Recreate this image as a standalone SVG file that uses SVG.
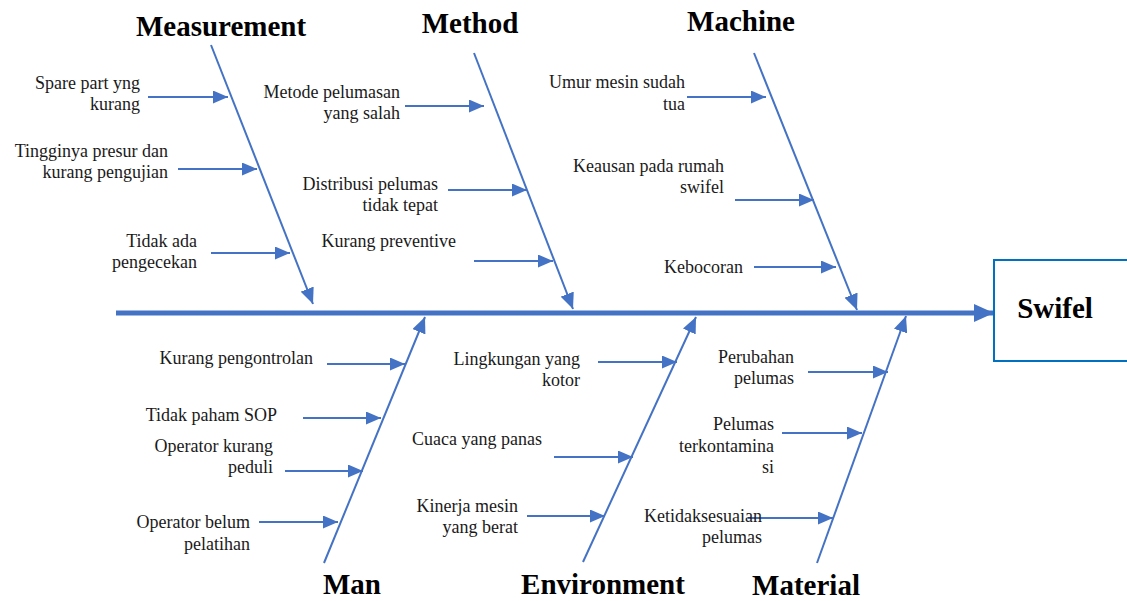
<svg xmlns="http://www.w3.org/2000/svg" width="1127" height="601" viewBox="0 0 1127 601">
<style>
.t{font-family:"Liberation Serif","Times New Roman",serif;font-size:18px;fill:#1a1a1a;text-anchor:end}
.h{font-family:"Liberation Serif","Times New Roman",serif;font-size:29px;font-weight:bold;fill:#000;text-anchor:middle}
.sub{stroke:#4472C4;stroke-width:1.8;fill:none;marker-end:url(#a)}
.bone{stroke:#4472C4;stroke-width:2;fill:none;marker-end:url(#b)}
</style>
<defs>
<marker id="a" markerUnits="userSpaceOnUse" markerWidth="15" markerHeight="13" refX="15" refY="6.5" orient="auto"><path d="M0,0 L15,6.5 L0,13 z" fill="#4472C4"/></marker>
<marker id="b" markerUnits="userSpaceOnUse" markerWidth="16" markerHeight="14" refX="16" refY="7" orient="auto"><path d="M0,0 L16,7 L0,14 z" fill="#4472C4"/></marker>
<marker id="c" markerUnits="userSpaceOnUse" markerWidth="20" markerHeight="18" refX="20" refY="9" orient="auto"><path d="M0,0 L20,9 L0,18 z" fill="#4472C4"/></marker>
</defs>
<rect width="1127" height="601" fill="#fff"/>
<g id="connectors">
<line x1="116" y1="313" x2="994" y2="313" stroke="#4472C4" stroke-width="5" marker-end="url(#c)"/>
<line class="bone" x1="211" y1="45" x2="313" y2="304"/>
<line class="bone" x1="474" y1="53" x2="573" y2="309"/>
<line class="bone" x1="754" y1="53" x2="857" y2="310"/>
<line class="bone" x1="324" y1="563" x2="425" y2="317"/>
<line class="bone" x1="583" y1="562" x2="696" y2="317"/>
<line class="bone" x1="817" y1="563" x2="906" y2="316"/>
<line class="sub" x1="148" y1="97" x2="228" y2="97"/>
<line class="sub" x1="178" y1="169" x2="257" y2="169"/>
<line class="sub" x1="211" y1="253" x2="290" y2="253"/>
<line class="sub" x1="405" y1="106" x2="484" y2="106"/>
<line class="sub" x1="448" y1="190" x2="527" y2="190"/>
<line class="sub" x1="474" y1="261" x2="553" y2="261"/>
<line class="sub" x1="687" y1="97" x2="766" y2="97"/>
<line class="sub" x1="735" y1="200" x2="814" y2="200"/>
<line class="sub" x1="754" y1="267" x2="836" y2="267"/>
<line class="sub" x1="327" y1="364" x2="405" y2="364"/>
<line class="sub" x1="303" y1="418" x2="381" y2="418"/>
<line class="sub" x1="285" y1="471" x2="363" y2="471"/>
<line class="sub" x1="259" y1="522" x2="338" y2="522"/>
<line class="sub" x1="598" y1="362" x2="677" y2="362"/>
<line class="sub" x1="554" y1="457" x2="633" y2="457"/>
<line class="sub" x1="527" y1="516" x2="605" y2="516"/>
<line class="sub" x1="808" y1="372" x2="888" y2="372"/>
<line class="sub" x1="782" y1="433" x2="862" y2="433"/>
<line class="sub" x1="748" y1="518" x2="833" y2="518"/>
</g>
<g id="swifel">
<rect x="994" y="260" width="150" height="101" fill="#fff" stroke="#0070C0" stroke-width="2"/>
<text class="h" x="1055" y="318">Swifel</text>
</g>
<g id="measurement">
<text class="h" x="221" y="36">Measurement</text>
<text class="t" x="140" y="89">Spare part yng</text>
<text class="t" x="140" y="110">kurang</text>
<text class="t" x="168" y="157">Tingginya presur dan</text>
<text class="t" x="168" y="178">kurang pengujian</text>
<text class="t" x="197" y="247">Tidak ada</text>
<text class="t" x="197" y="268">pengecekan</text>
</g>
<g id="method">
<text class="h" x="470" y="33">Method</text>
<text class="t" x="400" y="98">Metode pelumasan</text>
<text class="t" x="400" y="119">yang salah</text>
<text class="t" x="438" y="190">Distribusi pelumas</text>
<text class="t" x="438" y="211">tidak tepat</text>
<text class="t" x="456" y="247">Kurang preventive</text>
</g>
<g id="machine">
<text class="h" x="741" y="31">Machine</text>
<text class="t" x="685" y="88">Umur mesin sudah</text>
<text class="t" x="685" y="110">tua</text>
<text class="t" x="724" y="172">Keausan pada rumah</text>
<text class="t" x="724" y="193">swifel</text>
<text class="t" x="743" y="273">Kebocoran</text>
</g>
<g id="man">
<text class="h" x="352" y="594">Man</text>
<text class="t" x="313" y="364">Kurang pengontrolan</text>
<text class="t" x="277" y="421">Tidak paham SOP</text>
<text class="t" x="273" y="452">Operator kurang</text>
<text class="t" x="273" y="473">peduli</text>
<text class="t" x="250" y="528">Operator belum</text>
<text class="t" x="250" y="550">pelatihan</text>
</g>
<g id="environment">
<text class="h" x="603" y="594">Environment</text>
<text class="t" x="580" y="365">Lingkungan yang</text>
<text class="t" x="580" y="386">kotor</text>
<text class="t" x="542" y="445">Cuaca yang panas</text>
<text class="t" x="518" y="512">Kinerja mesin</text>
<text class="t" x="518" y="533">yang berat</text>
</g>
<g id="material">
<text class="h" x="806" y="595">Material</text>
<text class="t" x="794" y="363">Perubahan</text>
<text class="t" x="794" y="384">pelumas</text>
<text class="t" x="774" y="430">Pelumas</text>
<text class="t" x="774" y="452">terkontamina</text>
<text class="t" x="774" y="473">si</text>
<text class="t" x="762" y="522">Ketidaksesuaian</text>
<text class="t" x="762" y="543">pelumas</text>
</g>
</svg>
